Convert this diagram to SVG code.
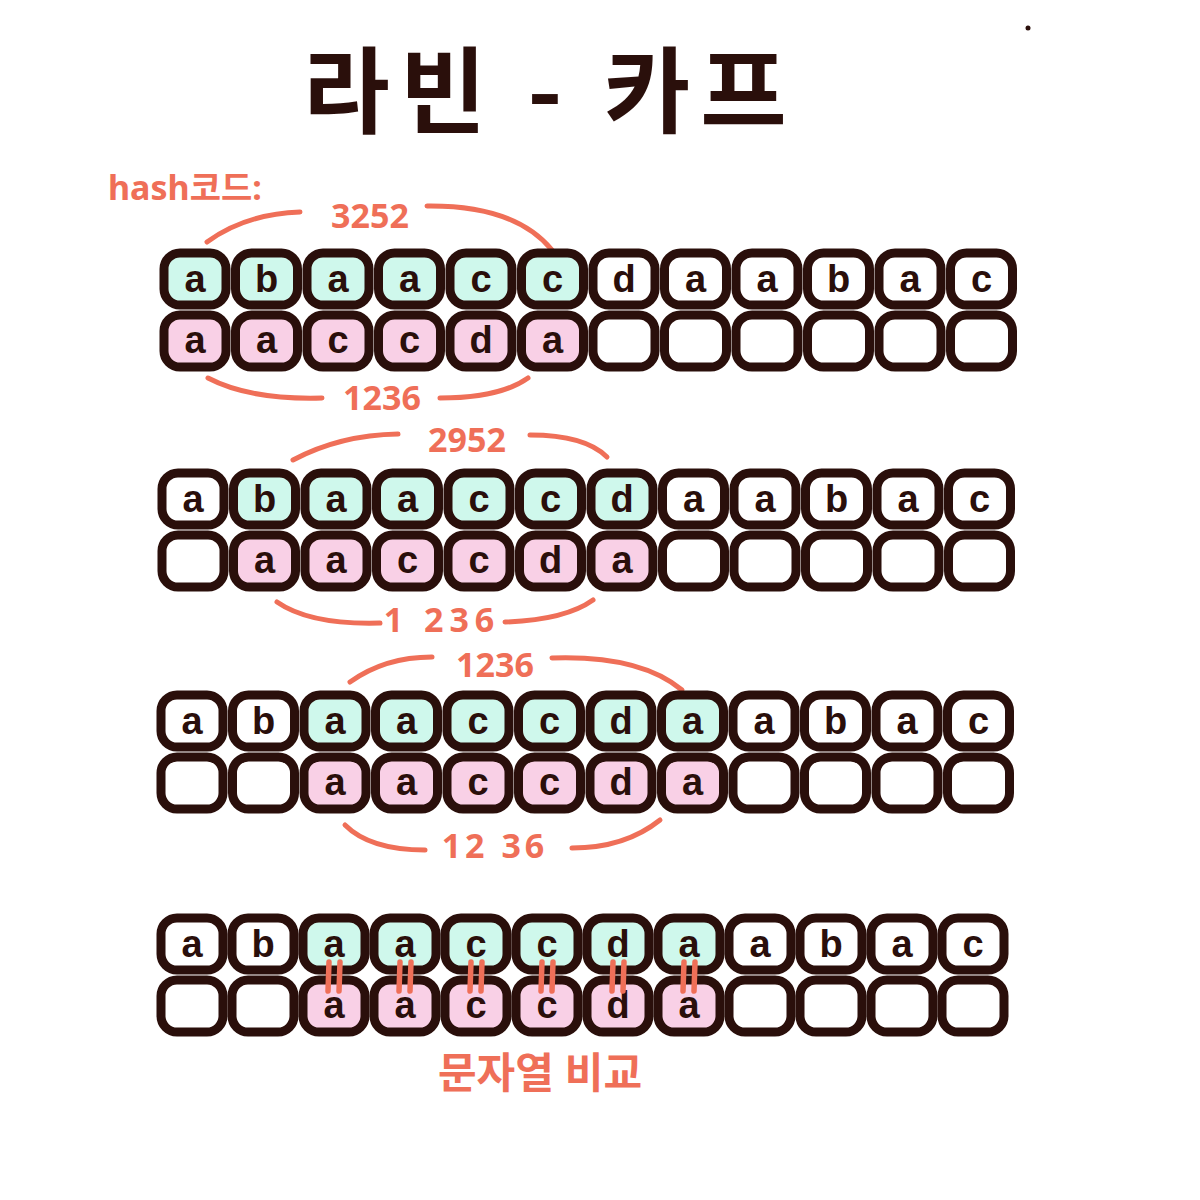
<svg xmlns="http://www.w3.org/2000/svg" xmlns:xlink="http://www.w3.org/1999/xlink" width="1200" height="1200" viewBox="0 0 1200 1200">
<style>
.cell{stroke:#2a0f0b;stroke-width:9;stroke-linejoin:round}
.w{fill:#ffffff}.m{fill:#cff8ec}.p{fill:#f9d0e6}
.ch{font-family:"Liberation Sans","DejaVu Sans",sans-serif;font-weight:bold;font-size:38px;fill:#2a0f0b;text-anchor:middle}
.arc{fill:none;stroke:#ef6f58;stroke-width:5;stroke-linecap:round}
.lbl{font-family:"Noto Sans","Noto Sans CJK KR",sans-serif;font-weight:bold;fill:#ef6f58;font-size:34px;text-anchor:middle}
.eq{stroke:#ef6f58;stroke-width:5.5;stroke-linecap:round}
.title{font-family:"Noto Sans CJK KR","Noto Sans",sans-serif;font-weight:700;font-size:94px;fill:#2a0f0b;text-anchor:middle;letter-spacing:10px}
</style>
<defs><rect id="c" class="cell" x="-1" width="62" height="52" rx="16"/></defs>
<rect width="1200" height="1200" fill="#fff"/>
<circle cx="1028" cy="28" r="2.5" fill="#2a0f0b"/>
<text class="title" x="550" y="126">라빈 - 카프</text>
<text class="lbl" x="108" y="200" style="text-anchor:start;font-size:34px">hash코드:</text>

<g id="connectors">
<path class="arc" d="M207,242 Q245,214 300,212"/><path class="arc" d="M427,206 Q515,205 552,250"/>
<path class="arc" d="M208,378 Q250,400 322,398"/><path class="arc" d="M440,398 Q500,398 528,378"/>
<path class="arc" d="M293,460 Q340,435 398,434"/><path class="arc" d="M530,435 Q585,435 607,457"/>
<path class="arc" d="M277,602 Q310,625 380,623"/><path class="arc" d="M505,622 Q565,620 593,600"/>
<path class="arc" d="M350,682 Q385,657 432,657"/><path class="arc" d="M552,658 Q640,655 682,690"/>
<path class="arc" d="M345,825 Q370,850 425,850"/><path class="arc" d="M572,848 Q625,848 660,820"/>
<g id="eqmarks">
<path class="eq" d="M329,962 L328,991 M340,962 L339,991"/>
<path class="eq" d="M400,962 L399,991 M411,962 L410,991"/>
<path class="eq" d="M471,962 L470,991 M482,962 L481,991"/>
<path class="eq" d="M542,962 L541,991 M553,962 L552,991"/>
<path class="eq" d="M613,962 L612,991 M624,962 L623,991"/>
<path class="eq" d="M684,962 L683,991 M695,962 L694,991"/>
</g>
</g>
<text class="lbl" x="370" y="228">3252</text>
<text class="lbl" x="382" y="410">1236</text>
<text class="lbl" x="467" y="452">2952</text>
<text class="lbl" x="442" y="632" style="letter-spacing:6px">1 236</text>
<text class="lbl" x="495" y="677">1236</text>
<text class="lbl" x="495" y="858" style="letter-spacing:4px">12 36</text>
<text class="lbl" x="540" y="1088" style="font-size:42px">문자열 비교</text>

<g id="row1">
<g id="r1t0"><use href="#c" class="m" x="165" y="253"/><text class="ch" x="195" y="292">a</text></g>
<g id="r1t1"><use href="#c" class="m" x="236.5" y="253"/><text class="ch" x="266.5" y="292">b</text></g>
<g id="r1t2"><use href="#c" class="m" x="308" y="253"/><text class="ch" x="338" y="292">a</text></g>
<g id="r1t3"><use href="#c" class="m" x="379.5" y="253"/><text class="ch" x="409.5" y="292">a</text></g>
<g id="r1t4"><use href="#c" class="m" x="451" y="253"/><text class="ch" x="481" y="292">c</text></g>
<g id="r1t5"><use href="#c" class="m" x="522.5" y="253"/><text class="ch" x="552.5" y="292">c</text></g>
<g id="r1t6"><use href="#c" class="w" x="594" y="253"/><text class="ch" x="624" y="292">d</text></g>
<g id="r1t7"><use href="#c" class="w" x="665.5" y="253"/><text class="ch" x="695.5" y="292">a</text></g>
<g id="r1t8"><use href="#c" class="w" x="737" y="253"/><text class="ch" x="767" y="292">a</text></g>
<g id="r1t9"><use href="#c" class="w" x="808.5" y="253"/><text class="ch" x="838.5" y="292">b</text></g>
<g id="r1t10"><use href="#c" class="w" x="880" y="253"/><text class="ch" x="910" y="292">a</text></g>
<g id="r1t11"><use href="#c" class="w" x="951.5" y="253"/><text class="ch" x="981.5" y="292">c</text></g>
<g id="r1p0"><use href="#c" class="p" x="165" y="315"/><text class="ch" x="195" y="353">a</text></g>
<g id="r1p1"><use href="#c" class="p" x="236.5" y="315"/><text class="ch" x="266.5" y="353">a</text></g>
<g id="r1p2"><use href="#c" class="p" x="308" y="315"/><text class="ch" x="338" y="353">c</text></g>
<g id="r1p3"><use href="#c" class="p" x="379.5" y="315"/><text class="ch" x="409.5" y="353">c</text></g>
<g id="r1p4"><use href="#c" class="p" x="451" y="315"/><text class="ch" x="481" y="353">d</text></g>
<g id="r1p5"><use href="#c" class="p" x="522.5" y="315"/><text class="ch" x="552.5" y="353">a</text></g>
<g id="r1p6"><use href="#c" class="w" x="594" y="315"/></g>
<g id="r1p7"><use href="#c" class="w" x="665.5" y="315"/></g>
<g id="r1p8"><use href="#c" class="w" x="737" y="315"/></g>
<g id="r1p9"><use href="#c" class="w" x="808.5" y="315"/></g>
<g id="r1p10"><use href="#c" class="w" x="880" y="315"/></g>
<g id="r1p11"><use href="#c" class="w" x="951.5" y="315"/></g>
</g>

<g id="row2">
<g id="r2t0"><use href="#c" class="w" x="163" y="473"/><text class="ch" x="193" y="512">a</text></g>
<g id="r2t1"><use href="#c" class="m" x="234.5" y="473"/><text class="ch" x="264.5" y="512">b</text></g>
<g id="r2t2"><use href="#c" class="m" x="306" y="473"/><text class="ch" x="336" y="512">a</text></g>
<g id="r2t3"><use href="#c" class="m" x="377.5" y="473"/><text class="ch" x="407.5" y="512">a</text></g>
<g id="r2t4"><use href="#c" class="m" x="449" y="473"/><text class="ch" x="479" y="512">c</text></g>
<g id="r2t5"><use href="#c" class="m" x="520.5" y="473"/><text class="ch" x="550.5" y="512">c</text></g>
<g id="r2t6"><use href="#c" class="m" x="592" y="473"/><text class="ch" x="622" y="512">d</text></g>
<g id="r2t7"><use href="#c" class="w" x="663.5" y="473"/><text class="ch" x="693.5" y="512">a</text></g>
<g id="r2t8"><use href="#c" class="w" x="735" y="473"/><text class="ch" x="765" y="512">a</text></g>
<g id="r2t9"><use href="#c" class="w" x="806.5" y="473"/><text class="ch" x="836.5" y="512">b</text></g>
<g id="r2t10"><use href="#c" class="w" x="878" y="473"/><text class="ch" x="908" y="512">a</text></g>
<g id="r2t11"><use href="#c" class="w" x="949.5" y="473"/><text class="ch" x="979.5" y="512">c</text></g>
<g id="r2p0"><use href="#c" class="w" x="163" y="535"/></g>
<g id="r2p1"><use href="#c" class="p" x="234.5" y="535"/><text class="ch" x="264.5" y="573">a</text></g>
<g id="r2p2"><use href="#c" class="p" x="306" y="535"/><text class="ch" x="336" y="573">a</text></g>
<g id="r2p3"><use href="#c" class="p" x="377.5" y="535"/><text class="ch" x="407.5" y="573">c</text></g>
<g id="r2p4"><use href="#c" class="p" x="449" y="535"/><text class="ch" x="479" y="573">c</text></g>
<g id="r2p5"><use href="#c" class="p" x="520.5" y="535"/><text class="ch" x="550.5" y="573">d</text></g>
<g id="r2p6"><use href="#c" class="p" x="592" y="535"/><text class="ch" x="622" y="573">a</text></g>
<g id="r2p7"><use href="#c" class="w" x="663.5" y="535"/></g>
<g id="r2p8"><use href="#c" class="w" x="735" y="535"/></g>
<g id="r2p9"><use href="#c" class="w" x="806.5" y="535"/></g>
<g id="r2p10"><use href="#c" class="w" x="878" y="535"/></g>
<g id="r2p11"><use href="#c" class="w" x="949.5" y="535"/></g>
</g>

<g id="row3">
<g id="r3t0"><use href="#c" class="w" x="162" y="695"/><text class="ch" x="192" y="734">a</text></g>
<g id="r3t1"><use href="#c" class="w" x="233.5" y="695"/><text class="ch" x="263.5" y="734">b</text></g>
<g id="r3t2"><use href="#c" class="m" x="305" y="695"/><text class="ch" x="335" y="734">a</text></g>
<g id="r3t3"><use href="#c" class="m" x="376.5" y="695"/><text class="ch" x="406.5" y="734">a</text></g>
<g id="r3t4"><use href="#c" class="m" x="448" y="695"/><text class="ch" x="478" y="734">c</text></g>
<g id="r3t5"><use href="#c" class="m" x="519.5" y="695"/><text class="ch" x="549.5" y="734">c</text></g>
<g id="r3t6"><use href="#c" class="m" x="591" y="695"/><text class="ch" x="621" y="734">d</text></g>
<g id="r3t7"><use href="#c" class="m" x="662.5" y="695"/><text class="ch" x="692.5" y="734">a</text></g>
<g id="r3t8"><use href="#c" class="w" x="734" y="695"/><text class="ch" x="764" y="734">a</text></g>
<g id="r3t9"><use href="#c" class="w" x="805.5" y="695"/><text class="ch" x="835.5" y="734">b</text></g>
<g id="r3t10"><use href="#c" class="w" x="877" y="695"/><text class="ch" x="907" y="734">a</text></g>
<g id="r3t11"><use href="#c" class="w" x="948.5" y="695"/><text class="ch" x="978.5" y="734">c</text></g>
<g id="r3p0"><use href="#c" class="w" x="162" y="757"/></g>
<g id="r3p1"><use href="#c" class="w" x="233.5" y="757"/></g>
<g id="r3p2"><use href="#c" class="p" x="305" y="757"/><text class="ch" x="335" y="795">a</text></g>
<g id="r3p3"><use href="#c" class="p" x="376.5" y="757"/><text class="ch" x="406.5" y="795">a</text></g>
<g id="r3p4"><use href="#c" class="p" x="448" y="757"/><text class="ch" x="478" y="795">c</text></g>
<g id="r3p5"><use href="#c" class="p" x="519.5" y="757"/><text class="ch" x="549.5" y="795">c</text></g>
<g id="r3p6"><use href="#c" class="p" x="591" y="757"/><text class="ch" x="621" y="795">d</text></g>
<g id="r3p7"><use href="#c" class="p" x="662.5" y="757"/><text class="ch" x="692.5" y="795">a</text></g>
<g id="r3p8"><use href="#c" class="w" x="734" y="757"/></g>
<g id="r3p9"><use href="#c" class="w" x="805.5" y="757"/></g>
<g id="r3p10"><use href="#c" class="w" x="877" y="757"/></g>
<g id="r3p11"><use href="#c" class="w" x="948.5" y="757"/></g>
</g>

<g id="row4">
<g id="r4t0"><use href="#c" class="w" x="162" y="918"/><text class="ch" x="192" y="957">a</text></g>
<g id="r4t1"><use href="#c" class="w" x="233" y="918"/><text class="ch" x="263" y="957">b</text></g>
<g id="r4t2"><use href="#c" class="m" x="304" y="918"/><text class="ch" x="334" y="957">a</text></g>
<g id="r4t3"><use href="#c" class="m" x="375" y="918"/><text class="ch" x="405" y="957">a</text></g>
<g id="r4t4"><use href="#c" class="m" x="446" y="918"/><text class="ch" x="476" y="957">c</text></g>
<g id="r4t5"><use href="#c" class="m" x="517" y="918"/><text class="ch" x="547" y="957">c</text></g>
<g id="r4t6"><use href="#c" class="m" x="588" y="918"/><text class="ch" x="618" y="957">d</text></g>
<g id="r4t7"><use href="#c" class="m" x="659" y="918"/><text class="ch" x="689" y="957">a</text></g>
<g id="r4t8"><use href="#c" class="w" x="730" y="918"/><text class="ch" x="760" y="957">a</text></g>
<g id="r4t9"><use href="#c" class="w" x="801" y="918"/><text class="ch" x="831" y="957">b</text></g>
<g id="r4t10"><use href="#c" class="w" x="872" y="918"/><text class="ch" x="902" y="957">a</text></g>
<g id="r4t11"><use href="#c" class="w" x="943" y="918"/><text class="ch" x="973" y="957">c</text></g>
<g id="r4p0"><use href="#c" class="w" x="162" y="980"/></g>
<g id="r4p1"><use href="#c" class="w" x="233" y="980"/></g>
<g id="r4p2"><use href="#c" class="p" x="304" y="980"/><text class="ch" x="334" y="1018">a</text></g>
<g id="r4p3"><use href="#c" class="p" x="375" y="980"/><text class="ch" x="405" y="1018">a</text></g>
<g id="r4p4"><use href="#c" class="p" x="446" y="980"/><text class="ch" x="476" y="1018">c</text></g>
<g id="r4p5"><use href="#c" class="p" x="517" y="980"/><text class="ch" x="547" y="1018">c</text></g>
<g id="r4p6"><use href="#c" class="p" x="588" y="980"/><text class="ch" x="618" y="1018">d</text></g>
<g id="r4p7"><use href="#c" class="p" x="659" y="980"/><text class="ch" x="689" y="1018">a</text></g>
<g id="r4p8"><use href="#c" class="w" x="730" y="980"/></g>
<g id="r4p9"><use href="#c" class="w" x="801" y="980"/></g>
<g id="r4p10"><use href="#c" class="w" x="872" y="980"/></g>
<g id="r4p11"><use href="#c" class="w" x="943" y="980"/></g>
</g>
<use href="#eqmarks"/>
</svg>
